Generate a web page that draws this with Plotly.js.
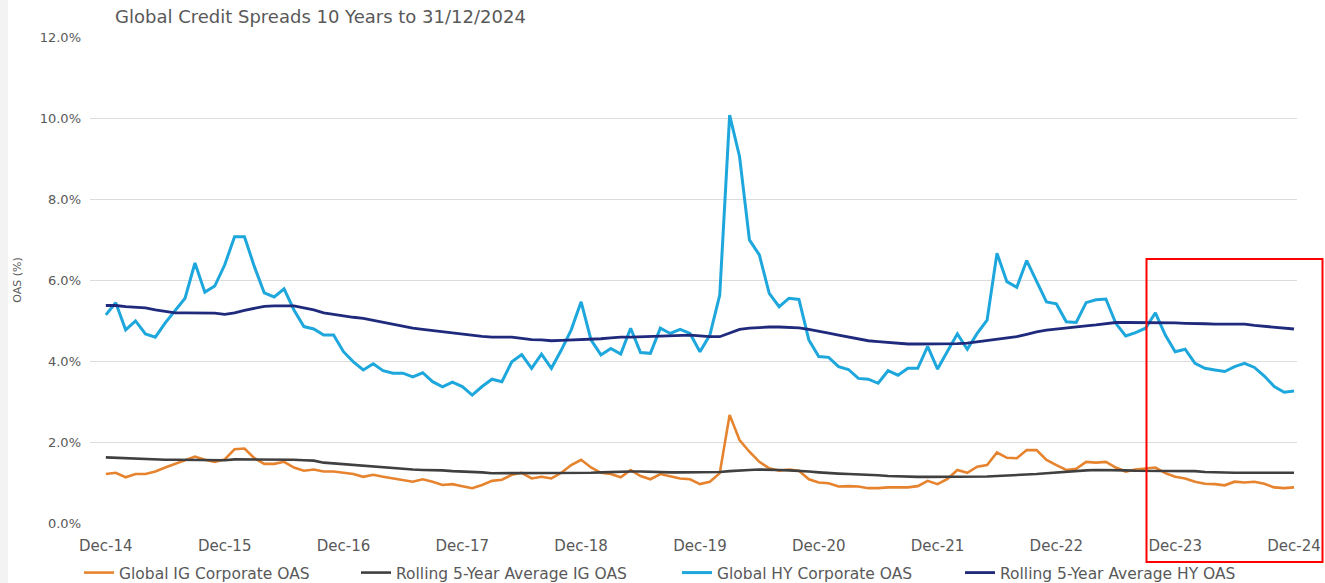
<!DOCTYPE html>
<html>
<head>
<meta charset="utf-8">
<script src="https://cdn.plot.ly/plotly-3.0.1.min.js"></script>
<style>
html,body{margin:0;padding:0;background:#fff;}
#chart{width:1325px;height:583px;}
</style>
</head>
<body>
<div id="chart"></div>
<script>
// Monthly observations, Dec-14 .. Dec-24 (121 months)
const startYear = 2014, startMonth = 12;
const months = [];
for (let i = 0; i <= 120; i++) {
  const m = (startMonth - 1 + i) % 12 + 1;
  const y = startYear + Math.floor((startMonth - 1 + i) / 12);
  months.push(y + '-' + String(m).padStart(2, '0'));
}

const tickLabels = ['Dec-14','Dec-15','Dec-16','Dec-17','Dec-18','Dec-19','Dec-20','Dec-21','Dec-22','Dec-23','Dec-24'];
const tickMonths = ['2014-12','2015-12','2016-12','2017-12','2018-12','2019-12','2020-12','2021-12','2022-12','2023-12','2024-12'];

const yTicks = [0,2,4,6,8,10,12];
const yTickLabels = ['0.0%','2.0%','4.0%','6.0%','8.0%','10.0%','12.0%'];

const seriesNames = ['Global IG Corporate OAS','Rolling 5-Year Average IG OAS','Global HY Corporate OAS','Rolling 5-Year Average HY OAS'];

const igOAS = [
 1.21,1.24,1.13,1.21,1.21,1.27,1.37,1.46,1.56,1.64,1.56,1.51,
 1.57,1.82,1.84,1.60,1.46,1.46,1.51,1.37,1.29,1.32,1.27,1.27,
 1.24,1.21,1.14,1.19,1.14,1.10,1.06,1.02,1.08,1.02,0.94,0.96,
 0.91,0.86,0.94,1.04,1.07,1.19,1.24,1.10,1.14,1.10,1.24,1.43,
 1.56,1.37,1.24,1.21,1.13,1.31,1.16,1.08,1.21,1.16,1.10,1.08,
 0.96,1.02,1.23,2.67,2.05,1.76,1.51,1.35,1.29,1.32,1.29,1.08,
 1.00,0.98,0.90,0.91,0.90,0.86,0.86,0.88,0.88,0.88,0.91,1.04,
 0.96,1.09,1.31,1.24,1.39,1.43,1.74,1.61,1.60,1.80,1.80,1.56,
 1.43,1.31,1.34,1.51,1.49,1.51,1.37,1.27,1.32,1.34,1.37,1.23,
 1.14,1.10,1.02,0.97,0.96,0.93,1.02,1.00,1.02,0.97,0.88,0.86,
 0.88
];

const igAvg = [
 1.62,1.61,1.60,1.58,1.57,1.56,1.56,1.56,1.56,1.56,1.55,1.55,
 1.55,1.57,1.57,1.56,1.56,1.56,1.56,1.56,1.55,1.54,1.49,1.47,
 1.46,1.44,1.41,1.39,1.38,1.35,1.33,1.32,1.31,1.31,1.30,1.28,
 1.27,1.27,1.25,1.23,1.23,1.23,1.23,1.23,1.23,1.23,1.23,1.23,
 1.23,1.24,1.25,1.26,1.27,1.27,1.27,1.26,1.25,1.25,1.25,1.25,
 1.25,1.25,1.26,1.28,1.30,1.31,1.32,1.32,1.31,1.30,1.29,1.27,
 1.25,1.23,1.22,1.21,1.20,1.20,1.18,1.16,1.15,1.14,1.14,1.14,
 1.14,1.14,1.14,1.14,1.15,1.15,1.16,1.17,1.18,1.20,1.21,1.23,
 1.25,1.27,1.28,1.30,1.31,1.31,1.30,1.30,1.29,1.29,1.29,1.29,
 1.29,1.29,1.28,1.26,1.25,1.24,1.24,1.24,1.24,1.24,1.24,1.24,
 1.24
];

const hyOAS = [
 5.14,5.44,4.77,4.99,4.67,4.59,4.94,5.26,5.55,6.42,5.70,5.85,
 6.37,7.07,7.07,6.33,5.68,5.58,5.78,5.26,4.85,4.79,4.64,4.64,
 4.23,3.98,3.78,3.93,3.76,3.70,3.70,3.61,3.71,3.49,3.36,3.48,
 3.37,3.16,3.37,3.55,3.49,3.98,4.16,3.82,4.17,3.82,4.27,4.77,
 5.46,4.52,4.15,4.31,4.17,4.81,4.21,4.19,4.81,4.68,4.78,4.68,
 4.23,4.64,5.63,10.07,9.05,6.99,6.62,5.67,5.34,5.55,5.52,4.52,
 4.11,4.09,3.86,3.79,3.57,3.55,3.45,3.76,3.65,3.82,3.82,4.36,
 3.80,4.24,4.67,4.29,4.68,5.01,6.66,5.96,5.82,6.48,5.96,5.46,
 5.41,4.97,4.95,5.44,5.51,5.53,4.93,4.62,4.70,4.81,5.19,4.64,
 4.23,4.29,3.94,3.82,3.78,3.74,3.86,3.94,3.84,3.63,3.37,3.23,
 3.26
];

const hyAvg = [
 5.37,5.37,5.34,5.32,5.31,5.26,5.22,5.19,5.19,5.19,5.19,5.18,
 5.15,5.19,5.25,5.30,5.35,5.36,5.36,5.36,5.31,5.26,5.19,5.15,
 5.11,5.08,5.05,5.00,4.95,4.91,4.86,4.81,4.78,4.75,4.72,4.69,
 4.66,4.64,4.61,4.59,4.59,4.59,4.56,4.53,4.52,4.50,4.51,4.52,
 4.53,4.53,4.55,4.57,4.59,4.59,4.60,4.60,4.61,4.62,4.63,4.64,
 4.62,4.60,4.60,4.70,4.78,4.81,4.83,4.84,4.84,4.83,4.82,4.78,
 4.74,4.69,4.64,4.59,4.55,4.50,4.48,4.46,4.44,4.42,4.42,4.42,
 4.42,4.42,4.43,4.44,4.47,4.50,4.53,4.57,4.60,4.66,4.72,4.76,
 4.79,4.81,4.84,4.87,4.89,4.92,4.95,4.95,4.95,4.95,4.95,4.94,
 4.94,4.93,4.93,4.92,4.91,4.91,4.91,4.91,4.88,4.86,4.84,4.82,
 4.79
];

const idx = months.map((m, i) => i);
const tickIdx = tickMonths.map(t => months.indexOf(t));

const colors = ['#e6832f', '#404040', '#1ea7dc', '#1f2a7c'];
const widths = [2.6, 2.6, 3, 2.8];
const legendIds = ['legend', 'legend2', 'legend3', 'legend4'];
const allSeries = [igOAS, igAvg, hyOAS, hyAvg];

const traces = allSeries.map((vals, k) => ({
  type: 'scatter', mode: 'lines',
  x: idx, y: vals, name: seriesNames[k],
  line: {color: colors[k], width: widths[k]},
  legend: legendIds[k],
  hoverinfo: 'skip'
}));

const font = "'DejaVu Sans', 'Open Sans', sans-serif";
const txt = '#595959';

// plot area in pixels: left 90, right 1297, top 37, bottom 523
const L = 90, R = 1297, T = 37, B = 523;
const px2paperX = p => (p - L) / (R - L);
const px2paperY = p => (B - p) / (B - T);

const legendX = [79, 356, 677, 960];
function makeLegend(px) {
  return {
    orientation: 'h',
    x: px2paperX(px), xref: 'paper', xanchor: 'left',
    y: px2paperY(573), yref: 'paper', yanchor: 'middle',
    font: {family: font, size: 15.5, color: txt},
    bgcolor: 'rgba(0,0,0,0)', borderwidth: 0
  };
}

const layout = {
  width: 1325, height: 583,
  margin: {l: L, r: 1325 - R, t: T, b: 583 - B, pad: 0, autoexpand: false},
  paper_bgcolor: '#ffffff', plot_bgcolor: '#ffffff',
  font: {family: font, color: txt, size: 12},
  showlegend: true,
  title: {
    text: 'Global Credit Spreads 10 Years to 31/12/2024',
    font: {family: font, size: 18, color: txt},
    xref: 'container', yref: 'container',
    x: 115 / 1325, xanchor: 'left',
    y: 1 - 17 / 583, yanchor: 'middle'
  },
  xaxis: {
    range: [-1.6, 120.3],
    tickmode: 'array', tickvals: tickIdx, ticktext: tickLabels,
    showgrid: false, zeroline: false, showline: false, ticks: '',
    ticklabelstandoff: 12,
    tickfont: {family: font, size: 15, color: txt},
    fixedrange: true
  },
  yaxis: {
    range: [0, 12],
    tickmode: 'array', tickvals: yTicks, ticktext: yTickLabels,
    showgrid: true, gridcolor: '#dcdcdc', gridwidth: 1,
    zeroline: false, showline: false, ticks: '',
    ticklabelstandoff: 8,
    tickfont: {family: font, size: 13, color: txt},
    title: {text: 'OAS (%)', font: {family: font, size: 11, color: txt}, standoff: 15},
    fixedrange: true
  },
  legend: makeLegend(legendX[0]),
  legend2: makeLegend(legendX[1]),
  legend3: makeLegend(legendX[2]),
  legend4: makeLegend(legendX[3]),
  shapes: [
    {
      type: 'rect', xref: 'paper', yref: 'paper',
      x0: px2paperX(0), x1: px2paperX(8),
      y0: px2paperY(583), y1: px2paperY(0),
      line: {width: 0}, fillcolor: '#f3f3f3', layer: 'below'
    },
    {
      type: 'rect', xref: 'paper', yref: 'paper',
      x0: px2paperX(1146.5), x1: px2paperX(1322.5),
      y0: px2paperY(562), y1: px2paperY(259),
      line: {color: '#ff0000', width: 2}, fillcolor: 'rgba(0,0,0,0)', layer: 'above'
    }
  ]
};

Plotly.newPlot('chart', traces, layout, {displayModeBar: false, staticPlot: true});
</script>
</body>
</html>
